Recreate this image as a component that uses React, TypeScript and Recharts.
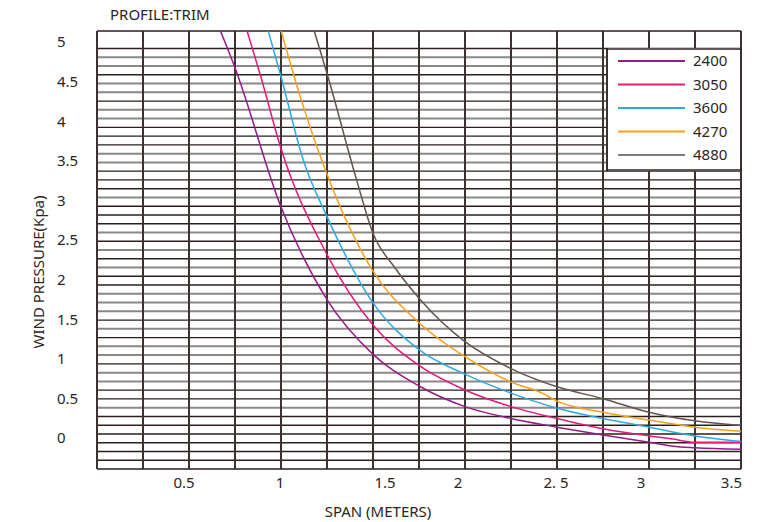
import { Legend, Line, LineChart, ReferenceLine, XAxis, YAxis } from "recharts";

const SERIES_NAMES = ["2400", "3050", "3600", "4270", "4880"];

// span (m) / wind pressure (Kpa)
const span2400 = [0.67, 0.75, 1.0, 1.25, 1.5, 1.75, 2.0, 2.25, 2.5, 2.75, 3.0, 3.13, 3.25, 3.5];
const wp2400 = [5.15, 4.68, 2.92, 1.75, 1.06, 0.66, 0.4, 0.25, 0.14, 0.04, -0.05, -0.1, -0.12, -0.14];

const span3050 = [0.815, 0.89, 1.0, 1.25, 1.5, 1.75, 2.0, 2.25, 2.5, 2.75, 3.0, 3.13, 3.25, 3.5];
const wp3050 = [5.15, 4.57, 3.66, 2.32, 1.43, 0.92, 0.61, 0.4, 0.25, 0.12, 0.03, -0.01, -0.05, -0.05];

const span3600 = [0.93, 1.0, 1.12, 1.25, 1.5, 1.75, 2.0, 2.25, 2.5, 2.75, 3.0, 3.25, 3.5];
const wp3600 = [5.15, 4.57, 3.52, 2.8, 1.71, 1.12, 0.81, 0.57, 0.38, 0.25, 0.14, 0.03, -0.04];

const span4270 = [1.0, 1.1, 1.22, 1.5, 1.75, 2.0, 2.25, 2.42, 2.5, 2.75, 3.0, 3.25, 3.5];
const wp4270 = [5.15, 4.35, 3.52, 2.11, 1.46, 1.03, 0.71, 0.57, 0.47, 0.33, 0.23, 0.14, 0.09];

const span4880 = [1.18, 1.255, 1.41, 1.5, 1.62, 1.75, 2.0, 2.25, 2.5, 2.75, 3.0, 3.25, 3.5];
const wp4880 = [5.15, 4.57, 3.27, 2.59, 2.15, 1.77, 1.22, 0.88, 0.65, 0.5, 0.33, 0.22, 0.16];

const X_TICKS = [0.5, 1, 1.5, 2, 2.5, 3, 3.5];
const X_LABELS = ["0.5", "1", "1.5", "2", "2. 5", "3", "3.5"];
const X_LABEL_DX = [-5, -1, 12, -7, -1, -8, 1];
const Y_TICKS = [0, 0.5, 1, 1.5, 2, 2.5, 3, 3.5, 4, 4.5, 5];

const COLORS = ["#951b87", "#e6197c", "#2eaae1", "#f5a01a", "#64544d"];
const LEGEND_COLORS = ["#951b87", "#e6197c", "#2eaae1", "#f5a01a", "#7f7b79"];

const Y_MIN = -0.388;
const Y_MAX = 5.144;
const X_MAX = 3.5;

// chart-paper grid: 0.25 m columns, ~50 rows, some rows printed grey
const ROW = (Y_MAX - Y_MIN) / 50;
const GREY_ROWS = [7, 10, 11, 13, 14, 16, 18, 19, 20, 23, 25, 27, 31, 35, 36, 40, 41, 43, 44, 46, 47];
const rows = Array.from({ length: 51 }, (_, i) => i).filter((i) => i !== 49);
const cols = Array.from({ length: 15 }, (_, i) => i * 0.25);

const FONT = '"Noto Sans", sans-serif';
const TEXT = "#2b2523";
const FS = 15;

const series = [
  [span2400, wp2400],
  [span3050, wp3050],
  [span3600, wp3600],
  [span4270, wp4270],
  [span4880, wp4880],
].map(([xs, ys]) => xs.map((x, i) => ({ span: x, wp: ys[i] })));

const XTick = ({ x, y, payload, index }: any) => {
  const last = index === X_TICKS.length - 1;
  const k = X_TICKS.indexOf(payload.value);
  return (
    <text x={x + X_LABEL_DX[k]} y={y + 11} textAnchor={last ? "end" : "middle"} fontSize={FS} fill={TEXT} fontFamily={FONT}>
      {X_LABELS[k]}
    </text>
  );
};

const YTick = ({ y, payload }: any) => (
  <text x={57} y={y + 5} textAnchor="start" fontSize={FS} fill={TEXT} fontFamily={FONT}>
    {payload.value}
  </text>
);

const LegendBox = ({ payload }: any) => (
  <svg width={136} height={123} style={{ display: "block" }}>
    <rect x={0} y={0} width={136} height={123} fill="#fff" />
    <line x1={1} y1={0} x2={1} y2={123} stroke="#3b3331" strokeWidth={2} />
    <line x1={135} y1={0} x2={135} y2={123} stroke="#3b3331" strokeWidth={2} />
    <line x1={0} y1={1} x2={136} y2={1} stroke="#2a1f1c" strokeWidth={1.5} />
    <line x1={0} y1={122} x2={136} y2={122} stroke="#2a1f1c" strokeWidth={1.5} />
    {(payload || []).map((p: any, i: number) => (
      <g key={p.value}>
        <line x1={12} x2={79} y1={13 + i * 23.5} y2={13 + i * 23.5} stroke={LEGEND_COLORS[i]} strokeWidth={2} />
        <text x={87} y={18 + i * 23.5} fontSize={FS} fill={TEXT} fontFamily={FONT}>
          {p.value}
        </text>
      </g>
    ))}
  </svg>
);

export default function App() {
  return (
    <div style={{ position: "absolute", left: 0, top: 0, width: 771, height: 522, background: "#fff" }}>
      <div style={{ position: "absolute", left: 110, top: 4, fontSize: FS, color: TEXT, fontFamily: FONT }}>
        PROFILE:TRIM
      </div>
      <LineChart width={771} height={522} margin={{ top: 31, right: 30, bottom: 0, left: 0 }}>
        <XAxis
          type="number"
          dataKey="span"
          domain={[0, X_MAX]}
          ticks={X_TICKS}
          allowDataOverflow
          axisLine={false}
          tickLine={false}
          height={53}
          tick={<XTick />}
          label={{
            content: () => (
              <text x={378} y={517} textAnchor="middle" fontSize={FS} fill={TEXT} fontFamily={FONT}>
                SPAN (METERS)
              </text>
            ),
          }}
        />
        <YAxis
          type="number"
          domain={[Y_MIN, Y_MAX]}
          ticks={Y_TICKS}
          allowDataOverflow
          axisLine={false}
          tickLine={false}
          width={97}
          tick={<YTick />}
          label={{
            content: () => (
              <text x={44} y={272} transform="rotate(-90 44 272)" textAnchor="middle" fontSize={FS} fill={TEXT} fontFamily={FONT}>
                WIND PRESSURE(Kpa)
              </text>
            ),
          }}
        />
        {rows.map((i) => {
          const grey = GREY_ROWS.includes(i);
          return (
            <ReferenceLine
              key={`r${i}`}
              y={Y_MIN + i * ROW}
              stroke={grey ? "#8d8787" : "#2a1f1c"}
              strokeWidth={grey ? 2 : 1.4}
            />
          );
        })}
        {cols.map((c) => (
          <ReferenceLine key={`c${c}`} x={c} stroke="#3b3331" strokeWidth={2} />
        ))}
        <Legend
          layout="horizontal"
          verticalAlign="middle"
          content={<LegendBox />}
          wrapperStyle={{ left: 606, top: 48, width: 136, height: 123 }}
        />
        {series.map((d, i) => (
          <Line
            key={SERIES_NAMES[i]}
            data={d}
            dataKey="wp"
            name={SERIES_NAMES[i]}
            type="monotone"
            stroke={COLORS[i]}
            strokeWidth={1.5}
            dot={false}
            isAnimationActive={false}
          />
        ))}
      </LineChart>
    </div>
  );
}
